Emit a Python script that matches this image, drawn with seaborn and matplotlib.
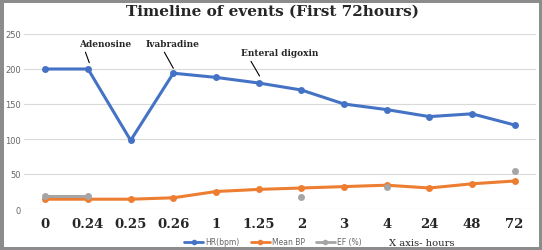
import matplotlib
matplotlib.use("Agg")
import matplotlib.pyplot as plt
from matplotlib.lines import Line2D
import seaborn as sns
import pandas as pd
import numpy as np

sns.set_style("white")

hours = ["0", "0.24", "0.25", "0.26", "1", "1.25", "2", "3", "4", "24", "48", "72"]
hr = [200, 200, 98, 194, 188, 180, 170, 150, 142, 132, 136, 120]
meanBp = [14, 14, 14, 16, 25, 28, 30, 32, 34, 30, 36, 40]
ef = [18, 18, np.nan, np.nan, np.nan, np.nan, 17, np.nan, 31, np.nan, np.nan, 55]

seriesNames = ["HR(bpm)", "Mean BP", "EF (%)"]
seriesColors = ["#4472c4", "#ed7d31", "#a5a5a5"]

df = pd.DataFrame({"x": range(len(hours)), "HR(bpm)": hr, "Mean BP": meanBp, "EF (%)": ef})
# EF has gaps: only consecutive readings are joined
df["seg"] = df["EF (%)"].isna().cumsum()

fig = plt.figure(figsize=(5.42, 2.51), dpi=100)
fig.patch.set_edgecolor("#8c8c8c")
fig.patch.set_linewidth(5)
ax = fig.add_axes([24 / 542, 1 - 210 / 251, 512 / 542, 175 / 251])

lineKw = dict(marker="o", markersize=5, markeredgewidth=0, linewidth=2.2, legend=False)
sns.lineplot(x="x", y="HR(bpm)", data=df, ax=ax, color=seriesColors[0], **lineKw)
sns.lineplot(x="x", y="Mean BP", data=df, ax=ax, color=seriesColors[1], **lineKw)
sns.lineplot(x="x", y="EF (%)", data=df.dropna(subset=["EF (%)"]), ax=ax, units="seg",
             estimator=None, color=seriesColors[2], **lineKw)

ax.set_xlim(-0.5, len(hours) - 0.5)
ax.set_ylim(0, 250)
ax.set_yticks([0, 50, 100, 150, 200, 250])
ax.set_xticks(range(len(hours)))
ax.set_xticklabels(hours, fontsize=9.5, fontweight="bold", family="DejaVu Serif")
ax.tick_params(axis="y", labelsize=6, labelcolor="#666666", length=0, pad=2)
ax.tick_params(axis="x", length=0, pad=6)
ax.grid(axis="y", color="#d9d9d9", linewidth=0.8)
for s in ax.spines.values():
    s.set_visible(False)
ax.set_xlabel("")
ax.set_ylabel("")

fig.text(0.502, 0.952, "Timeline of events (First 72hours)", ha="center", va="center",
         fontsize=11, fontweight="bold", family="DejaVu Serif")

textKw = dict(fontsize=6.5, fontweight="bold", family="DejaVu Serif", ha="center", va="center")
lineStyle = dict(arrowstyle="-", color="black", lw=0.8, shrinkA=0, shrinkB=0)
ax.text(1.4, 236, "Adenosine", **textKw)
ax.annotate("", xy=(1.03, 209), xytext=(0.94, 224), arrowprops=lineStyle)
ax.text(2.97, 236, "Ivabradine", **textKw)
ax.annotate("", xy=(3.0, 201), xytext=(2.79, 224), arrowprops=lineStyle)
ax.text(5.5, 224, "Enteral digoxin", **textKw)
ax.annotate("", xy=(5.02, 190), xytext=(4.82, 211), arrowprops=lineStyle)

handles = [Line2D([], [], color=c, marker="o", markersize=4, markeredgewidth=0, linewidth=2)
           for c in seriesColors]
leg = fig.legend(handles, seriesNames, loc="center", bbox_to_anchor=(273 / 542, 1 - 243 / 251),
                 ncol=3, frameon=False, fontsize=5.5, handlelength=2.5, columnspacing=1.4,
                 handletextpad=0.3, borderpad=0)
for t in leg.get_texts():
    t.set_color("#666666")
fig.text(389 / 542, 1 - 244 / 251, "X axis- hours", fontsize=7.2, family="DejaVu Serif", va="center")

fig.savefig("out.png", dpi=100, edgecolor=fig.get_edgecolor())
